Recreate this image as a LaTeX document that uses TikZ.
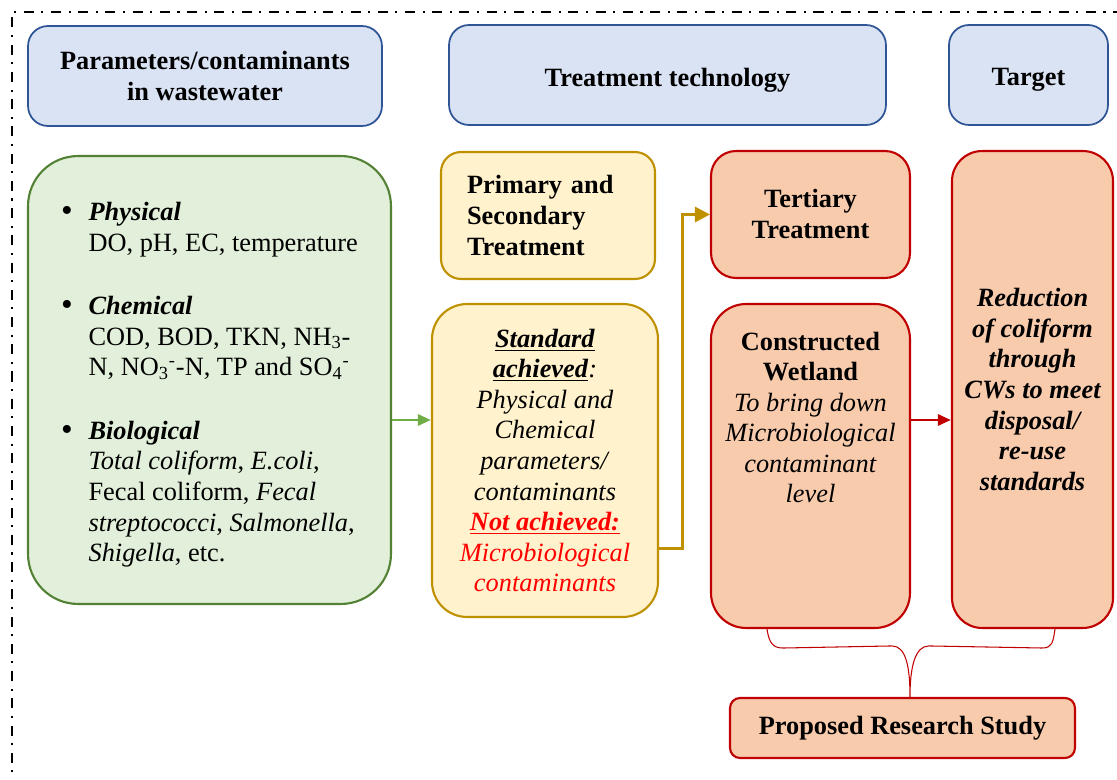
\documentclass[tikz,border=0pt]{standalone}
\usepackage{fontspec}
\setmainfont{Liberation Serif}
\usepackage{color}
\usetikzlibrary{arrows.meta,calc}

\definecolor{hdrfill}{RGB}{218,227,243}
\definecolor{hdrline}{RGB}{47,85,151}
\definecolor{grnfill}{RGB}{226,239,218}
\definecolor{grnline}{RGB}{84,130,53}
\definecolor{grnarrow}{RGB}{112,173,71}
\definecolor{goldfill}{RGB}{255,242,204}
\definecolor{goldline}{RGB}{191,144,0}
\definecolor{redfill}{RGB}{248,203,173}
\definecolor{redline}{RGB}{192,0,0}
\definecolor{redtext}{RGB}{255,0,0}

\newcommand{\dropby}[2]{\raisebox{-#1}[\height][\depth]{#2}}
\newcommand{\bigbul}{\raisebox{-0.6pt}{\fontsize{19}{17.4}\selectfont\textbullet}}

\begin{document}
\begin{tikzpicture}[x=0.02cm,y=-0.02cm,
  font=\fontsize{15}{17.4}\selectfont,
  hdr/.style={draw=hdrline,fill=hdrfill,line width=1pt,rounded corners=0.4cm,
    minimum height=2cm,align=center,font=\fontsize{15}{17.4}\selectfont\bfseries},
  grnbox/.style={draw=grnline,fill=grnfill,line width=1.2pt,rounded corners=1cm},
  goldbox/.style={draw=goldline,fill=goldfill,line width=1.2pt},
  redbox/.style={draw=redline,fill=redfill,line width=1.2pt},
  brace/.style={draw=redline,line width=0.6pt},
  frame/.style={line width=1.1pt,dash pattern=on 5.7pt off 4.3pt on 1.2pt off 4.3pt}]
\useasboundingbox (0,0) rectangle (1117,780);
\draw[frame] (12,790) -- (12,12) -- (1125,12);

% headers
\node[hdr,minimum width=7.08cm] (hdpar) at (205,76)
  {\dropby{1.5pt}{\begin{tabular}{@{}c@{}}Parameters/contaminants\\in wastewater\end{tabular}}};
\node[hdr,minimum width=8.74cm] (hdtech) at (667.5,75) {\dropby{2.8pt}{Treatment technology}};
\node[hdr,minimum width=3.18cm] (hdtgt) at (1028.5,75) {\dropby{2.8pt}{Target}};

% parameters
\node[grnbox,minimum width=7.26cm,minimum height=8.96cm] (params) at (209.5,380) {%
\dropby{2.8pt}{\begin{tabular}{@{}p{0.55cm}@{}l@{}}
\bigbul & \textbf{\textit{Physical}}\\
 & DO, pH, EC, temperature\\[18.8pt]
\bigbul & \textbf{\textit{Chemical}}\\
 & COD, BOD, TKN, NH\textsubscript{3}-\\
 & N, NO\textsubscript{3}\textsuperscript{-}-N, TP and SO\textsubscript{4}\textsuperscript{-}\\[18.8pt]
\bigbul & \textbf{\textit{Biological}}\\
 & \textit{Total coliform}, \textit{E.coli},\\
 & Fecal coliform, \textit{Fecal}\\
 & \textit{streptococci}, \textit{Salmonella},\\
 & \textit{Shigella}, etc.
\end{tabular}}};

% treatment
\node[goldbox,rounded corners=0.4cm,minimum width=4.28cm,minimum height=2.54cm,
  text width=3.24cm,align=left,font=\fontsize{15}{17.4}\selectfont\bfseries] (prim) at (548,215.5)
  {Primary and\\Secondary\\Treatment};
\node[goldbox,rounded corners=0.7cm,minimum width=4.52cm,minimum height=6.26cm,align=center] (std) at (545,460.5) {%
\underline{\textbf{\textit{Standard}}}\\
\underline{\textbf{\textit{achieved}}}\textit{:}\\
\textit{Physical and}\\
\textit{Chemical}\\
\textit{parameters/}\\
\textit{contaminants}\\
\textcolor{redtext}{\underline{\textbf{\textit{Not achieved:}}}}\\
\textcolor{redtext}{\textit{Microbiological}}\\
\textcolor{redtext}{\textit{contaminants}}};
\node[redbox,rounded corners=0.5cm,minimum width=3.98cm,minimum height=2.54cm,
  align=center,font=\fontsize{15}{17.4}\selectfont\bfseries] (ter) at (810.5,214.5)
  {\dropby{1.5pt}{\begin{tabular}{@{}c@{}}Tertiary\\Treatment\end{tabular}}};
\node[redbox,rounded corners=0.7cm,minimum width=3.98cm,minimum height=6.48cm] (cw) at (810.5,466) {};
\node[anchor=north,inner sep=0pt,align=center] (cwtext) at (810.5,331.5) {%
\textbf{Constructed}\\
\textbf{Wetland}\\
\textit{To bring down}\\
\textit{Microbiological}\\
\textit{contaminant}\\
\textit{level}};

% target
\node[redbox,rounded corners=0.6cm,minimum width=3.22cm,minimum height=9.54cm,
  align=center,font=\fontsize{15}{17.4}\selectfont\bfseries\itshape] (tgt) at (1032.5,389.5)
  {Reduction\\of coliform\\through\\CWs to meet\\disposal/\\re-use\\standards};

\node[redbox,rounded corners=0.2cm,minimum width=6.9cm,minimum height=1.2cm,
  font=\fontsize{15}{17.4}\selectfont\bfseries] (prop) at (902.5,728) {Proposed Research Study};

% connectors
\coordinate (axis) at (0,420);
\draw[grnarrow,line width=1.7pt,-{Triangle[length=0.26cm,width=0.22cm]}] (params.east |- axis) -- (std.west |- axis);
\draw[goldline,line width=1.7pt,-{Triangle[length=0.3cm,width=0.3cm]}] ([yshift=-1.77cm]std.east) -- ++(23,0) |- (ter.west);
\draw[redline,line width=1.7pt,-{Triangle[length=0.26cm,width=0.22cm]}] (cw.east |- axis) -- (tgt.west |- axis);

% brace
\coordinate (bl) at ([xshift=-0.87cm]cw.south);
\coordinate (br) at ([xshift=0.45cm]tgt.south);
\coordinate (bt) at ([xshift=0.15cm]prop.north);
\draw[brace] (bl) .. controls +(2,14) and +(-10,0) .. ($(bl)+(16,19)$) -- ($(bt)+(-18,-51)$)
  .. controls +(14,0) and +(0,-30) .. (bt)
  .. controls +(0,-30) and +(-14,0) .. ($(bt)+(19,-51)$) -- ($(br)+(-13,19)$)
  .. controls +(10,0) and +(-2,14) .. (br);
\end{tikzpicture}
\end{document}
